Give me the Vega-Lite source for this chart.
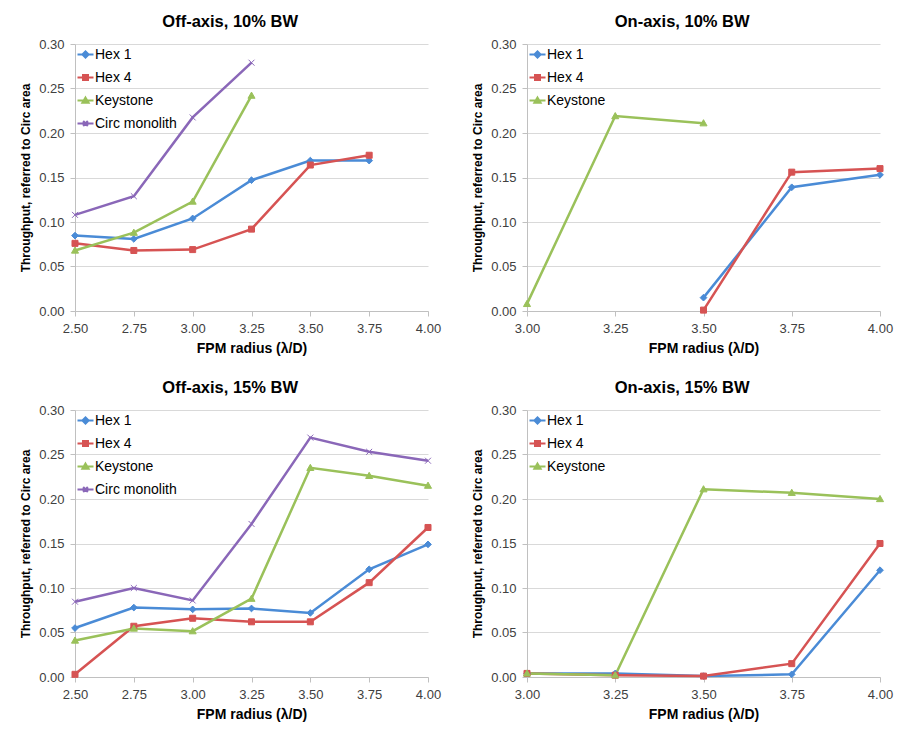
{
  "$schema": "https://vega.github.io/schema/vega-lite/v6.json",
  "background": "white",
  "padding": {"left": 19, "top": 13, "right": 5, "bottom": 5},
  "datasets": {
    "off10": [
      {"series": "Hex 1", "r": 2.5, "t": 0.0847},
      {"series": "Hex 1", "r": 2.75, "t": 0.081},
      {"series": "Hex 1", "r": 3.0, "t": 0.104},
      {"series": "Hex 1", "r": 3.25, "t": 0.147},
      {"series": "Hex 1", "r": 3.5, "t": 0.169},
      {"series": "Hex 1", "r": 3.75, "t": 0.169},
      {"series": "Hex 4", "r": 2.5, "t": 0.076},
      {"series": "Hex 4", "r": 2.75, "t": 0.068},
      {"series": "Hex 4", "r": 3.0, "t": 0.069},
      {"series": "Hex 4", "r": 3.25, "t": 0.092},
      {"series": "Hex 4", "r": 3.5, "t": 0.164},
      {"series": "Hex 4", "r": 3.75, "t": 0.175},
      {"series": "Keystone", "r": 2.5, "t": 0.068},
      {"series": "Keystone", "r": 2.75, "t": 0.088},
      {"series": "Keystone", "r": 3.0, "t": 0.123},
      {"series": "Keystone", "r": 3.25, "t": 0.242},
      {"series": "Circ monolith", "r": 2.5, "t": 0.108},
      {"series": "Circ monolith", "r": 2.75, "t": 0.129},
      {"series": "Circ monolith", "r": 3.0, "t": 0.2175},
      {"series": "Circ monolith", "r": 3.25, "t": 0.279}
    ],
    "on10": [
      {"series": "Hex 1", "r": 3.5, "t": 0.015},
      {"series": "Hex 1", "r": 3.75, "t": 0.139},
      {"series": "Hex 1", "r": 4.0, "t": 0.153},
      {"series": "Hex 4", "r": 3.5, "t": 0.001},
      {"series": "Hex 4", "r": 3.75, "t": 0.156},
      {"series": "Hex 4", "r": 4.0, "t": 0.16},
      {"series": "Keystone", "r": 3.0, "t": 0.008},
      {"series": "Keystone", "r": 3.25, "t": 0.219},
      {"series": "Keystone", "r": 3.5, "t": 0.211}
    ],
    "off15": [
      {"series": "Hex 1", "r": 2.5, "t": 0.055},
      {"series": "Hex 1", "r": 2.75, "t": 0.078},
      {"series": "Hex 1", "r": 3.0, "t": 0.076},
      {"series": "Hex 1", "r": 3.25, "t": 0.077},
      {"series": "Hex 1", "r": 3.5, "t": 0.072},
      {"series": "Hex 1", "r": 3.75, "t": 0.121},
      {"series": "Hex 1", "r": 4.0, "t": 0.149},
      {"series": "Hex 4", "r": 2.5, "t": 0.003},
      {"series": "Hex 4", "r": 2.75, "t": 0.057},
      {"series": "Hex 4", "r": 3.0, "t": 0.066},
      {"series": "Hex 4", "r": 3.25, "t": 0.062},
      {"series": "Hex 4", "r": 3.5, "t": 0.062},
      {"series": "Hex 4", "r": 3.75, "t": 0.106},
      {"series": "Hex 4", "r": 4.0, "t": 0.168},
      {"series": "Keystone", "r": 2.5, "t": 0.041},
      {"series": "Keystone", "r": 2.75, "t": 0.0545},
      {"series": "Keystone", "r": 3.0, "t": 0.0515},
      {"series": "Keystone", "r": 3.25, "t": 0.088},
      {"series": "Keystone", "r": 3.5, "t": 0.235},
      {"series": "Keystone", "r": 3.75, "t": 0.226},
      {"series": "Keystone", "r": 4.0, "t": 0.215},
      {"series": "Circ monolith", "r": 2.5, "t": 0.0846},
      {"series": "Circ monolith", "r": 2.75, "t": 0.1},
      {"series": "Circ monolith", "r": 3.0, "t": 0.086},
      {"series": "Circ monolith", "r": 3.25, "t": 0.172},
      {"series": "Circ monolith", "r": 3.5, "t": 0.269},
      {"series": "Circ monolith", "r": 3.75, "t": 0.253},
      {"series": "Circ monolith", "r": 4.0, "t": 0.243}
    ],
    "on15": [
      {"series": "Hex 1", "r": 3.0, "t": 0.004},
      {"series": "Hex 1", "r": 3.25, "t": 0.004},
      {"series": "Hex 1", "r": 3.5, "t": 0.001},
      {"series": "Hex 1", "r": 3.75, "t": 0.003},
      {"series": "Hex 1", "r": 4.0, "t": 0.12},
      {"series": "Hex 4", "r": 3.0, "t": 0.004},
      {"series": "Hex 4", "r": 3.25, "t": 0.002},
      {"series": "Hex 4", "r": 3.5, "t": 0.001},
      {"series": "Hex 4", "r": 3.75, "t": 0.015},
      {"series": "Hex 4", "r": 4.0, "t": 0.15},
      {"series": "Keystone", "r": 3.0, "t": 0.004},
      {"series": "Keystone", "r": 3.25, "t": 0.002},
      {"series": "Keystone", "r": 3.5, "t": 0.211},
      {"series": "Keystone", "r": 3.75, "t": 0.207},
      {"series": "Keystone", "r": 4.0, "t": 0.2}
    ]
  },
  "columns": 2,
  "spacing": {"column": 30, "row": 24},
  "concat": [
    {
      "width": 353, "height": 267,
      "title": "Off-axis, 10% BW",
      "data": {"name": "off10"},
      "encoding": {
        "x": {"field": "r", "type": "quantitative", "scale": {"domain": [2.5, 4]}, "axis": {"values": [2.5, 2.75, 3, 3.25, 3.5, 3.75, 4], "format": ".2f", "title": "FPM radius (λ/D)", "grid": false}},
        "y": {"field": "t", "type": "quantitative", "scale": {"domain": [0, 0.3]}, "axis": {"values": [0, 0.05, 0.1, 0.15, 0.2, 0.25, 0.3], "format": ".2f", "title": "Throughput, referred to Circ area", "grid": true}}
      },
      "layer": [
        {"mark": {"type": "line", "strokeWidth": 2.5},
         "encoding": {"color": {"field": "series", "type": "nominal", "scale": {"domain": ["Hex 1", "Hex 4", "Keystone", "Circ monolith"], "range": ["#4a8bd6", "#d65353", "#9ac15a", "#8a67b8"]},
          "legend": {"encode": {"symbols": {"update": {
            "shape": {"signal": "datum.value==='Hex 1' ? 'M-1,0H1M0,-0.37L0.37,0L0,0.37L-0.37,0Z' : datum.value==='Hex 4' ? 'M-1,0H1M-0.3,-0.3H0.3V0.3H-0.3Z' : datum.value==='Keystone' ? 'M-1,0H1M0,-0.35L0.37,0.27H-0.37Z' : 'M-1,0H1M-0.3,-0.3L0.3,0.3M-0.3,0.3L0.3,-0.3'"},
            "stroke": {"signal": "datum.value==='Hex 1' ? '#4a8bd6' : datum.value==='Hex 4' ? '#d65353' : datum.value==='Keystone' ? '#9ac15a' : '#8a67b8'"},
            "fill": {"signal": "datum.value==='Hex 1' ? '#4a8bd6' : datum.value==='Hex 4' ? '#d65353' : datum.value==='Keystone' ? '#9ac15a' : '#8a67b8'"}
          }}}}}}},
        {"transform": [{"filter": {"field": "series", "equal": "Hex 1"}}], "mark": {"type": "point", "shape": "M0,-1L1,0L0,1L-1,0Z", "filled": true, "fill": "#4a8bd6", "stroke": "#4a8bd6", "strokeWidth": 1, "size": 45, "opacity": 1}},
        {"transform": [{"filter": {"field": "series", "equal": "Hex 4"}}], "mark": {"type": "point", "shape": "M-0.85,-0.85H0.85V0.85H-0.85Z", "filled": true, "fill": "#d65353", "stroke": "#d65353", "strokeWidth": 1, "size": 50, "opacity": 1}},
        {"transform": [{"filter": {"field": "series", "equal": "Keystone"}}], "mark": {"type": "point", "shape": "M0,-1L1,0.75H-1Z", "filled": true, "fill": "#9ac15a", "stroke": "#9ac15a", "strokeWidth": 1, "size": 50, "opacity": 1}},
        {"transform": [{"filter": {"field": "series", "equal": "Circ monolith"}}], "mark": {"type": "point", "shape": "M-0.8,-0.8L0.8,0.8M-0.8,0.8L0.8,-0.8", "filled": false, "stroke": "#8a67b8", "strokeWidth": 1, "size": 55, "opacity": 1}}
      ]
    },
    {
      "width": 353, "height": 267,
      "title": "On-axis, 10% BW",
      "data": {"name": "on10"},
      "encoding": {
        "x": {"field": "r", "type": "quantitative", "scale": {"domain": [3, 4]}, "axis": {"values": [3, 3.25, 3.5, 3.75, 4], "format": ".2f", "title": "FPM radius (λ/D)", "grid": false}},
        "y": {"field": "t", "type": "quantitative", "scale": {"domain": [0, 0.3]}, "axis": {"values": [0, 0.05, 0.1, 0.15, 0.2, 0.25, 0.3], "format": ".2f", "title": "Throughput, referred to Circ area", "grid": true}}
      },
      "layer": [
        {"mark": {"type": "line", "strokeWidth": 2.5},
         "encoding": {"color": {"field": "series", "type": "nominal", "scale": {"domain": ["Hex 1", "Hex 4", "Keystone"], "range": ["#4a8bd6", "#d65353", "#9ac15a"]},
          "legend": {"encode": {"symbols": {"update": {
            "shape": {"signal": "datum.value==='Hex 1' ? 'M-1,0H1M0,-0.37L0.37,0L0,0.37L-0.37,0Z' : datum.value==='Hex 4' ? 'M-1,0H1M-0.3,-0.3H0.3V0.3H-0.3Z' : datum.value==='Keystone' ? 'M-1,0H1M0,-0.35L0.37,0.27H-0.37Z' : 'M-1,0H1M-0.3,-0.3L0.3,0.3M-0.3,0.3L0.3,-0.3'"},
            "stroke": {"signal": "datum.value==='Hex 1' ? '#4a8bd6' : datum.value==='Hex 4' ? '#d65353' : datum.value==='Keystone' ? '#9ac15a' : '#8a67b8'"},
            "fill": {"signal": "datum.value==='Hex 1' ? '#4a8bd6' : datum.value==='Hex 4' ? '#d65353' : datum.value==='Keystone' ? '#9ac15a' : '#8a67b8'"}
          }}}}}}},
        {"transform": [{"filter": {"field": "series", "equal": "Hex 1"}}], "mark": {"type": "point", "shape": "M0,-1L1,0L0,1L-1,0Z", "filled": true, "fill": "#4a8bd6", "stroke": "#4a8bd6", "strokeWidth": 1, "size": 45, "opacity": 1}},
        {"transform": [{"filter": {"field": "series", "equal": "Hex 4"}}], "mark": {"type": "point", "shape": "M-0.85,-0.85H0.85V0.85H-0.85Z", "filled": true, "fill": "#d65353", "stroke": "#d65353", "strokeWidth": 1, "size": 50, "opacity": 1}},
        {"transform": [{"filter": {"field": "series", "equal": "Keystone"}}], "mark": {"type": "point", "shape": "M0,-1L1,0.75H-1Z", "filled": true, "fill": "#9ac15a", "stroke": "#9ac15a", "strokeWidth": 1, "size": 50, "opacity": 1}}
      ]
    },
    {
      "width": 353, "height": 267,
      "title": "Off-axis, 15% BW",
      "data": {"name": "off15"},
      "encoding": {
        "x": {"field": "r", "type": "quantitative", "scale": {"domain": [2.5, 4]}, "axis": {"values": [2.5, 2.75, 3, 3.25, 3.5, 3.75, 4], "format": ".2f", "title": "FPM radius (λ/D)", "grid": false}},
        "y": {"field": "t", "type": "quantitative", "scale": {"domain": [0, 0.3]}, "axis": {"values": [0, 0.05, 0.1, 0.15, 0.2, 0.25, 0.3], "format": ".2f", "title": "Throughput, referred to Circ area", "grid": true}}
      },
      "layer": [
        {"mark": {"type": "line", "strokeWidth": 2.5},
         "encoding": {"color": {"field": "series", "type": "nominal", "scale": {"domain": ["Hex 1", "Hex 4", "Keystone", "Circ monolith"], "range": ["#4a8bd6", "#d65353", "#9ac15a", "#8a67b8"]},
          "legend": {"encode": {"symbols": {"update": {
            "shape": {"signal": "datum.value==='Hex 1' ? 'M-1,0H1M0,-0.37L0.37,0L0,0.37L-0.37,0Z' : datum.value==='Hex 4' ? 'M-1,0H1M-0.3,-0.3H0.3V0.3H-0.3Z' : datum.value==='Keystone' ? 'M-1,0H1M0,-0.35L0.37,0.27H-0.37Z' : 'M-1,0H1M-0.3,-0.3L0.3,0.3M-0.3,0.3L0.3,-0.3'"},
            "stroke": {"signal": "datum.value==='Hex 1' ? '#4a8bd6' : datum.value==='Hex 4' ? '#d65353' : datum.value==='Keystone' ? '#9ac15a' : '#8a67b8'"},
            "fill": {"signal": "datum.value==='Hex 1' ? '#4a8bd6' : datum.value==='Hex 4' ? '#d65353' : datum.value==='Keystone' ? '#9ac15a' : '#8a67b8'"}
          }}}}}}},
        {"transform": [{"filter": {"field": "series", "equal": "Hex 1"}}], "mark": {"type": "point", "shape": "M0,-1L1,0L0,1L-1,0Z", "filled": true, "fill": "#4a8bd6", "stroke": "#4a8bd6", "strokeWidth": 1, "size": 45, "opacity": 1}},
        {"transform": [{"filter": {"field": "series", "equal": "Hex 4"}}], "mark": {"type": "point", "shape": "M-0.85,-0.85H0.85V0.85H-0.85Z", "filled": true, "fill": "#d65353", "stroke": "#d65353", "strokeWidth": 1, "size": 50, "opacity": 1}},
        {"transform": [{"filter": {"field": "series", "equal": "Keystone"}}], "mark": {"type": "point", "shape": "M0,-1L1,0.75H-1Z", "filled": true, "fill": "#9ac15a", "stroke": "#9ac15a", "strokeWidth": 1, "size": 50, "opacity": 1}},
        {"transform": [{"filter": {"field": "series", "equal": "Circ monolith"}}], "mark": {"type": "point", "shape": "M-0.8,-0.8L0.8,0.8M-0.8,0.8L0.8,-0.8", "filled": false, "stroke": "#8a67b8", "strokeWidth": 1, "size": 55, "opacity": 1}}
      ]
    },
    {
      "width": 353, "height": 267,
      "title": "On-axis, 15% BW",
      "data": {"name": "on15"},
      "encoding": {
        "x": {"field": "r", "type": "quantitative", "scale": {"domain": [3, 4]}, "axis": {"values": [3, 3.25, 3.5, 3.75, 4], "format": ".2f", "title": "FPM radius (λ/D)", "grid": false}},
        "y": {"field": "t", "type": "quantitative", "scale": {"domain": [0, 0.3]}, "axis": {"values": [0, 0.05, 0.1, 0.15, 0.2, 0.25, 0.3], "format": ".2f", "title": "Throughput, referred to Circ area", "grid": true}}
      },
      "layer": [
        {"mark": {"type": "line", "strokeWidth": 2.5},
         "encoding": {"color": {"field": "series", "type": "nominal", "scale": {"domain": ["Hex 1", "Hex 4", "Keystone"], "range": ["#4a8bd6", "#d65353", "#9ac15a"]},
          "legend": {"encode": {"symbols": {"update": {
            "shape": {"signal": "datum.value==='Hex 1' ? 'M-1,0H1M0,-0.37L0.37,0L0,0.37L-0.37,0Z' : datum.value==='Hex 4' ? 'M-1,0H1M-0.3,-0.3H0.3V0.3H-0.3Z' : datum.value==='Keystone' ? 'M-1,0H1M0,-0.35L0.37,0.27H-0.37Z' : 'M-1,0H1M-0.3,-0.3L0.3,0.3M-0.3,0.3L0.3,-0.3'"},
            "stroke": {"signal": "datum.value==='Hex 1' ? '#4a8bd6' : datum.value==='Hex 4' ? '#d65353' : datum.value==='Keystone' ? '#9ac15a' : '#8a67b8'"},
            "fill": {"signal": "datum.value==='Hex 1' ? '#4a8bd6' : datum.value==='Hex 4' ? '#d65353' : datum.value==='Keystone' ? '#9ac15a' : '#8a67b8'"}
          }}}}}}},
        {"transform": [{"filter": {"field": "series", "equal": "Hex 1"}}], "mark": {"type": "point", "shape": "M0,-1L1,0L0,1L-1,0Z", "filled": true, "fill": "#4a8bd6", "stroke": "#4a8bd6", "strokeWidth": 1, "size": 45, "opacity": 1}},
        {"transform": [{"filter": {"field": "series", "equal": "Hex 4"}}], "mark": {"type": "point", "shape": "M-0.85,-0.85H0.85V0.85H-0.85Z", "filled": true, "fill": "#d65353", "stroke": "#d65353", "strokeWidth": 1, "size": 50, "opacity": 1}},
        {"transform": [{"filter": {"field": "series", "equal": "Keystone"}}], "mark": {"type": "point", "shape": "M0,-1L1,0.75H-1Z", "filled": true, "fill": "#9ac15a", "stroke": "#9ac15a", "strokeWidth": 1, "size": 50, "opacity": 1}}
      ]
    }
  ],
  "resolve": {"scale": {"color": "independent", "x": "independent", "y": "independent"}, "legend": {"color": "independent"}},
  "config": {
    "font": "Liberation Sans",
    "view": {"stroke": null},
    "title": {"fontSize": 16.5, "fontWeight": "bold", "color": "#000000", "anchor": "middle", "frame": "bounds", "offset": 8},
    "axis": {
      "labelFont": "Liberation Sans", "labelFontSize": 13, "labelColor": "#404040",
      "titleFont": "Liberation Sans", "titleFontWeight": "bold", "titleColor": "#000000",
      "domainColor": "#c0c0c0", "tickColor": "#c0c0c0", "gridColor": "#d9d9d9", "tickSize": 5,
      "labelPadding": 6
    },
    "axisX": {"titlePadding": 6, "labelFlush": false, "titleFontSize": 14},
    "axisY": {"titlePadding": 6, "titleFontSize": 12},
    "legend": {
      "title": null, "orient": "top-left", "offset": 1, "padding": 0,
      "labelFont": "Liberation Sans", "labelFontSize": 14, "labelColor": "#000000", "labelOffset": 0,
      "symbolSize": 256, "rowPadding": 6, "symbolStrokeWidth": 2.2
    },
    "line": {"strokeCap": "butt"}
  }
}
